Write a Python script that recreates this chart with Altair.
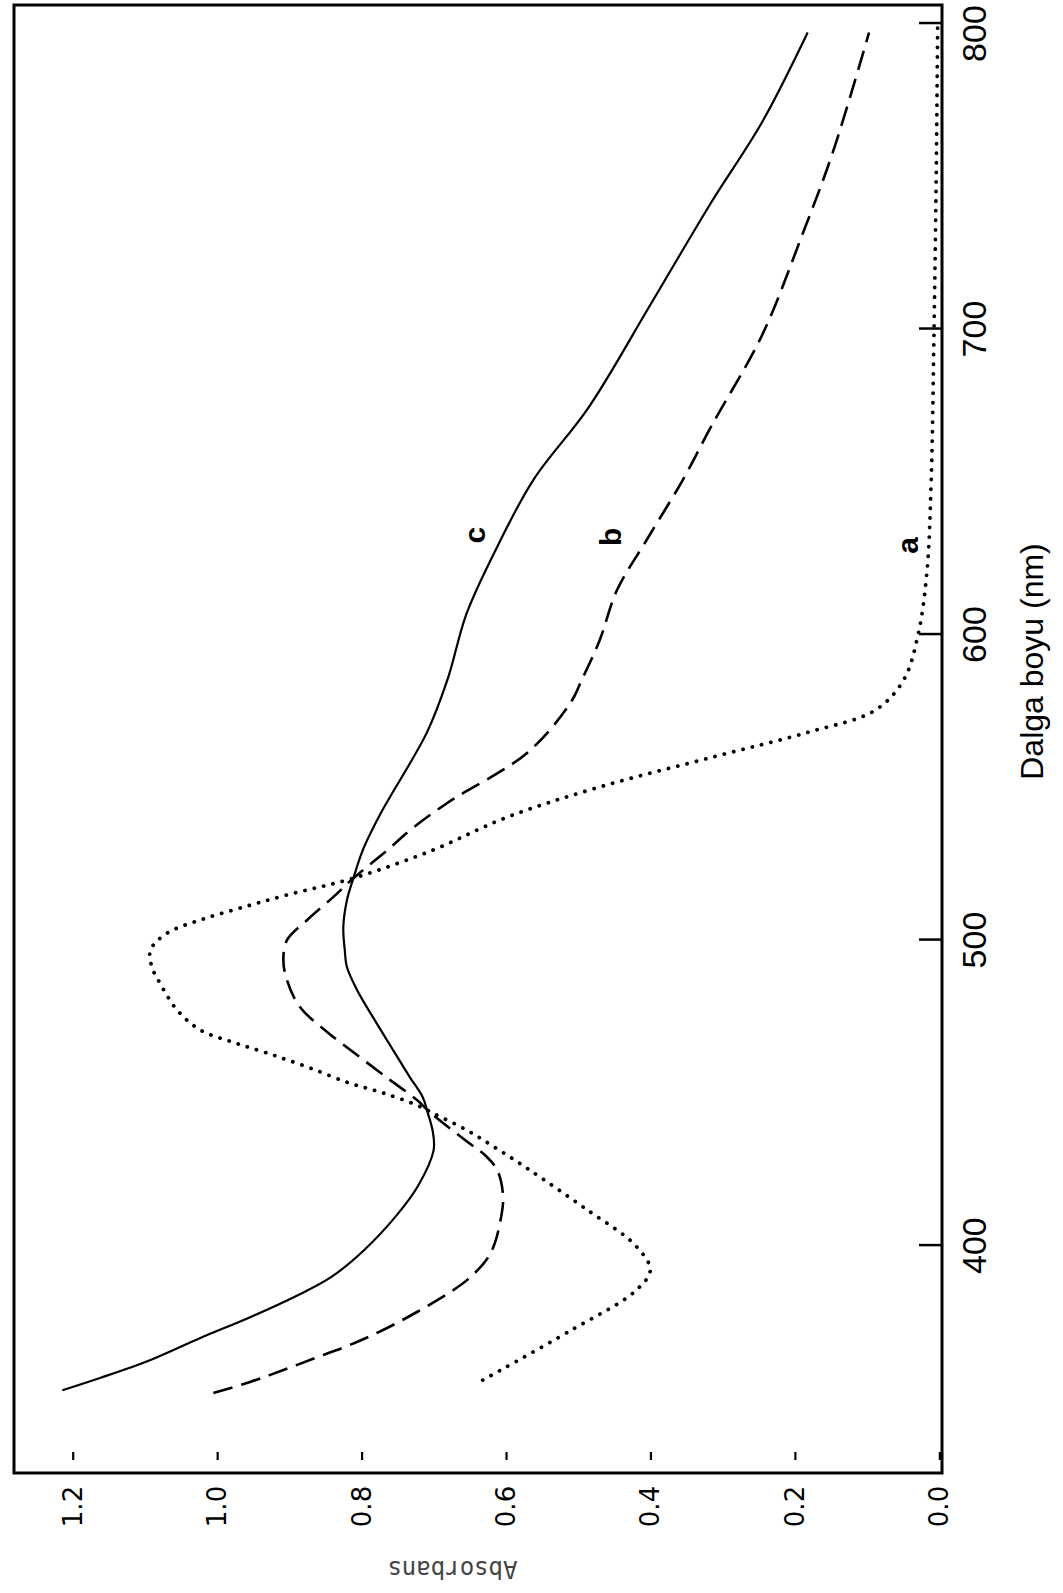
import altair as alt
import pandas as pd

# Curve c (solid)
wl_c = [352.5, 356.5, 362.4, 369.6, 376.4, 383.6, 389.5, 398.4, 409.8, 419.6, 431.0, 437.0,
        443.2, 448.4, 455.0, 463.8, 474.6, 483.5, 491.0, 496.6, 504.1, 512.9, 520.1, 529.3,
        541.4, 567.9, 584.9, 606.9, 628.5, 650.4, 674.3, 707.7, 741.1, 767.6, 796.9]
abs_c = [1.215, 1.163, 1.093, 1.024, 0.955, 0.889, 0.843, 0.797, 0.752, 0.722, 0.701, 0.702,
         0.709, 0.716, 0.734, 0.757, 0.785, 0.807, 0.821, 0.824, 0.826, 0.821, 0.812, 0.799,
         0.774, 0.710, 0.682, 0.655, 0.613, 0.563, 0.486, 0.401, 0.317, 0.246, 0.183]

# Curve b (dashed)
wl_b = [351.6, 355.2, 359.1, 363.3, 367.3, 372.2, 378.1, 384.3, 389.5, 397.4, 409.8, 416.7,
        424.6, 429.5, 433.4, 443.5, 447.5, 454.0, 461.5, 469.7, 477.9, 486.7, 493.3, 499.8,
        506.4, 513.9, 520.1, 529.3, 536.5, 544.7, 561.4, 578.0, 584.9, 598.0, 614.4, 630.8,
        650.4, 667.8, 697.9, 731.0, 757.8, 796.9]
abs_b = [1.006, 0.955, 0.909, 0.862, 0.817, 0.771, 0.724, 0.680, 0.650, 0.622, 0.607, 0.605,
         0.613, 0.630, 0.652, 0.706, 0.724, 0.761, 0.803, 0.848, 0.886, 0.904, 0.909, 0.904,
         0.876, 0.840, 0.812, 0.765, 0.730, 0.682, 0.570, 0.510, 0.496, 0.471, 0.447, 0.406,
         0.356, 0.317, 0.246, 0.190, 0.148, 0.098]

# Curve a (dotted)
wl_a = [355.8, 371.8, 384.9, 391.8, 400.0, 411.8, 424.9, 431.8, 437.6, 443.2, 445.8, 449.8,
        453.0, 458.3, 462.8, 466.4, 470.4, 476.9, 485.8, 491.0, 496.6, 502.1, 506.4, 510.3,
        514.6, 520.1, 529.3, 540.0, 550.0, 560.0, 568.0, 575.0, 585.0, 600.0, 620.0, 650.0,
        700.0, 750.0, 800.0]
abs_a = [0.633, 0.513, 0.422, 0.401, 0.422, 0.490, 0.570, 0.615, 0.655, 0.702, 0.724, 0.771,
         0.817, 0.876, 0.931, 0.979, 1.024, 1.056, 1.080, 1.091, 1.093, 1.070, 1.024, 0.969,
         0.904, 0.812, 0.702, 0.600, 0.470, 0.310, 0.180, 0.090, 0.050, 0.030, 0.018, 0.012,
         0.008, 0.005, 0.003]

tick_abs = [0.0, 0.2, 0.4, 0.6, 0.8, 1.0, 1.2]
tick_wl = [400, 500, 600, 700, 800]

label_names = ["a", "b", "c"]
label_wl = [629.0, 631.8, 632.4]
label_abs = [0.043, 0.454, 0.642]

rows = []
for name, wls, ab in (("a", wl_a, abs_a), ("b", wl_b, abs_b), ("c", wl_c, abs_c)):
    for w, a in zip(wls, ab):
        rows.append({"curve": name, "wl": w, "A": a})
df = pd.DataFrame(rows)
df_lab = pd.DataFrame({"name": label_names, "wl": label_wl, "A": label_abs})
df_tx = pd.DataFrame({"A": tick_abs})
df_ty = pd.DataFrame({"wl": tick_wl})

W, H = 928, 1468
xs = alt.Scale(domain=[-0.003, 1.282], reverse=True, nice=False, zero=False)
ys = alt.Scale(domain=[325.4, 805.9], nice=False, zero=False)

x_axis = alt.Axis(values=tick_abs, format=".1f", labelAngle=270, labelAlign="center",
                  labelBaseline="middle", labelPadding=33, ticks=False, tickSize=0,
                  domain=False, grid=False, labelFont="DejaVu Sans", labelFontSize=26,
                  labelColor="black", labelFlush=False, labelOverlap=False,
                  title="Absorbans", titleAngle=180, titleX=438, titleY=94,
                  titleAlign="center", titleBaseline="middle", titleFont="DejaVu Sans Mono",
                  titleFontSize=24, titleFontWeight="normal", titleColor="#444444")
y_axis = alt.Axis(values=tick_wl, orient="right", labelAngle=270, labelAlign="center",
                  labelBaseline="middle", labelPadding=33, ticks=False, tickSize=0,
                  domain=False, grid=False, labelFont="Liberation Sans", labelFontSize=34,
                  labelColor="black", labelFlush=False, labelOverlap=False,
                  labelOffset=alt.condition("datum.value == 800", alt.value(10), alt.value(0)),
                  title="Dalga boyu (nm)", titleAngle=270, titleX=90, titleY=656,
                  titleAlign="center", titleBaseline="middle", titleFont="Liberation Sans",
                  titleFontSize=32, titleFontWeight="normal", titleColor="black")

base = alt.Chart(df)
enc = dict(
    x=alt.X("A:Q", scale=xs, axis=x_axis),
    y=alt.Y("wl:Q", scale=ys, axis=y_axis),
    order=alt.Order("wl:Q"),
)

line_c = base.transform_filter("datum.curve == 'c'").mark_line(
    color="black", strokeWidth=2.2, interpolate="catmull-rom").encode(**enc)
line_b = base.transform_filter("datum.curve == 'b'").mark_line(
    color="black", strokeWidth=2.6, strokeDash=[20, 9], interpolate="catmull-rom").encode(**enc)
line_a = base.transform_filter("datum.curve == 'a'").mark_line(
    color="black", strokeWidth=3.8, strokeDash=[0.1, 9.5], strokeCap="round",
    interpolate="catmull-rom").encode(**enc)

labels = alt.Chart(df_lab).mark_text(
    angle=270, align="center", baseline="middle", font="Liberation Sans", fontSize=30,
    fontWeight="bold", color="black").encode(
    x=alt.X("A:Q", scale=xs), y=alt.Y("wl:Q", scale=ys), text="name:N")

xticks = alt.Chart(df_tx).mark_rule(color="black", strokeWidth=2.2).encode(
    x=alt.X("A:Q", scale=xs), y=alt.value(1447), y2=alt.value(1455))
yticks = alt.Chart(df_ty).mark_rule(color="black", strokeWidth=2.5).encode(
    y=alt.Y("wl:Q", scale=ys), x=alt.value(905), x2=alt.value(928))

chart = alt.layer(line_c, line_b, line_a, labels, xticks, yticks).properties(
    width=W, height=H,
    padding={"left": 14, "top": 5, "right": 121, "bottom": 120},
    autosize=alt.AutoSizeParams(type="none"),
    background="white",
).configure_view(stroke="black", strokeWidth=3)

chart.save("out.html", embed_options={"renderer": "svg", "actions": False})
